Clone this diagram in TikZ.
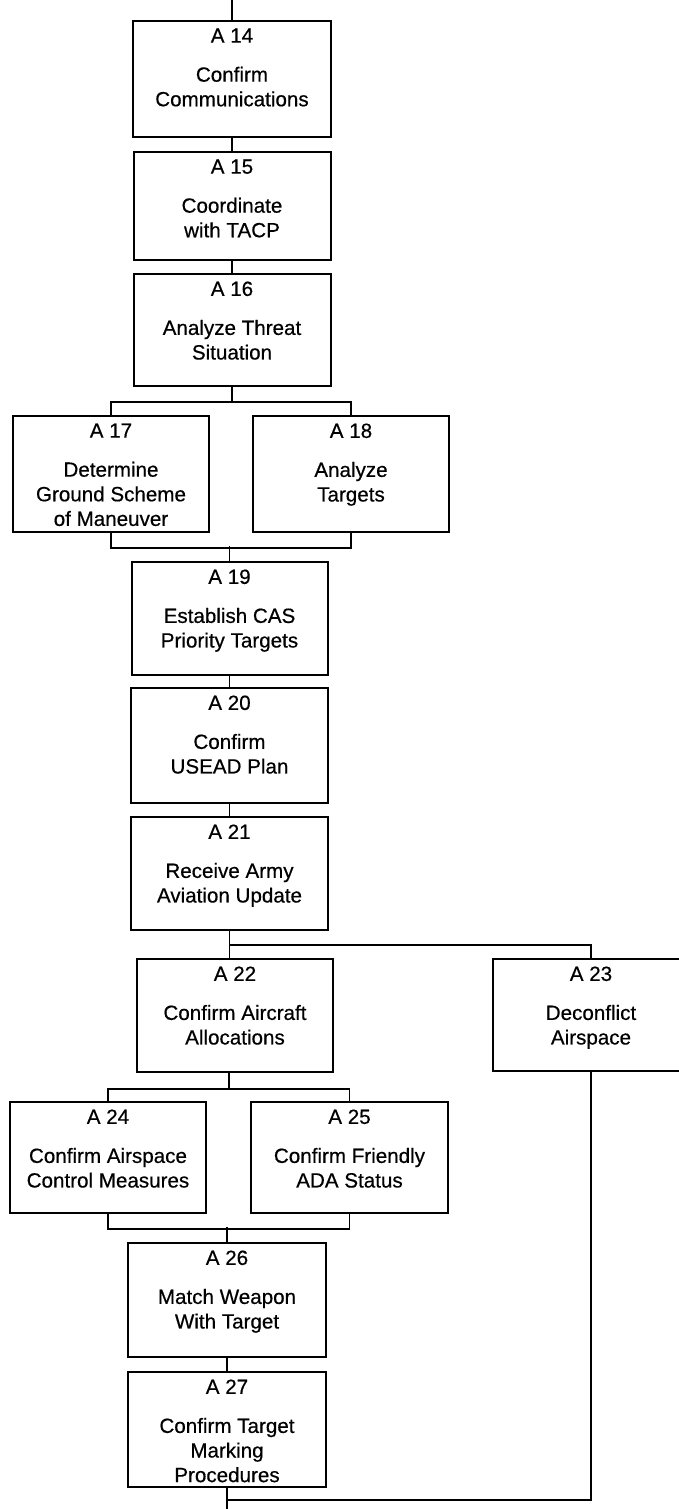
\documentclass[tikz,border=0pt]{standalone}
\usepackage{fontspec}
\setmainfont{Liberation Sans}[FakeBold=0.5]
\usetikzlibrary{calc}
\newlength\px
\setlength\px{0.5pt}
\def\act(#1)(#2,#3)(#4:#5)#6#7{\node[act] (#1) at (#2,#3) {\parbox[t][#5\px][t]{#4\px}{\centering\vspace*{3.75pt}#6\par\vspace{7.2pt}#7}};}

\begin{document}
\begin{tikzpicture}[x=0.5pt, y=-0.5pt,
	act/.style={draw, line width=1pt, inner sep=0pt, font=\fontsize{10.3}{12.3}\selectfont},
	link/.style={line width=0.9pt}]
	%%%%% START %%%%%
	\useasboundingbox (0,0) rectangle (679,1509);
	
	\act(a14)(232,79)(198:116){A 14}{Confirm\\Communications}
	\act(a15)(232,206)(197:108){A 15}{Coordinate\\with TACP}
	\act(a16)(232,330)(197:112){A 16}{Analyze Threat\\Situation}
	\act(a17)(111,474)(196:116){A 17}{Determine\\Ground Scheme\\of Maneuver}
	\act(a18)(351,474)(196:116){A 18}{Analyze\\Targets}
	\act(a19)(229.5,618.5)(196:113){A 19}{Establish CAS\\Priority Targets}
	\act(a20)(229.5,745.5)(197:115){A 20}{Confirm\\USEAD Plan}
	\act(a21)(229.5,873.5)(197:113){A 21}{Receive Army\\Aviation Update}
	\act(a22)(235,1015.5)(196:113){A 22}{Confirm Aircraft\\Allocations}
	\act(a23)(591,1015)(196:112){A 23}{Deconflict\\Airspace}
	\act(a24)(108,1157.5)(196:111){A 24}{Confirm Airspace\\Control Measures}
	\act(a25)(349.5,1157.5)(197:111){A 25}{Confirm Friendly\\ADA Status}
	\act(a26)(227,1300)(198:114){A 26}{Match Weapon\\With Target}
	\act(a27)(227,1429.5)(198:115){A 27}{Confirm Target\\Marking\\Procedures}
	
	% top chain
	\draw[link] (a14.north) -- ++(0,-21);
	\draw[link] (a14.south) -- (a15.north);
	\draw[link] (a15.south) -- (a16.north);
	
	% split and join 17/18
	\draw[link] (a16.south) -- ++(0,15) coordinate (s16);
	\draw[link] (a17.north) |- (s16) -| (a18.north);
	\draw[link] (a17.south) -- ++(0,15) -| (a18.south);
	\draw[link] (a19.north) -- ++(0,-15);
	
	\draw[link] (a19.south) -- (a20.north);
	\draw[link] (a20.south) -- (a21.north);
	
	% split 22/23
	\draw[link] (a21.south) -- (a21.south |- a22.north);
	\draw[link] (a21.south) ++(0,14) -| (a23.north);
	
	% split and join 24/25
	\draw[link] ($(a22.south)+(-6,0)$) -- ++(0,16) coordinate (s22);
	\draw[link] (a24.north) |- (s22) -| (a25.north);
	\draw[link] (a24.south) -- ++(0,15) -| (a25.south);
	\draw[link] (a26.north) -- ++(0,-15);
	
	\draw[link] (a26.south) -- (a27.north);
	\draw[link] (a27.south) -- ++(0,22);
	\draw[link] (a23.south) |- ($(a27.south)+(0,12)$);
	
	%%%%% END %%%%%
\end{tikzpicture}
\end{document}
